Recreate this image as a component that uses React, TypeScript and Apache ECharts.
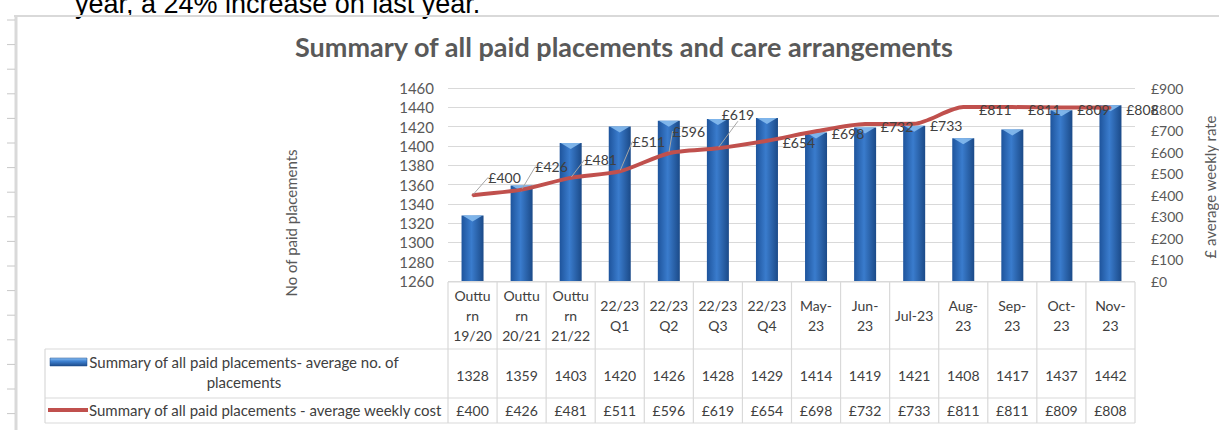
import React, { useEffect, useRef } from 'react';
import * as echarts from 'echarts';

// ---------- data ----------
const categories = [
  'Outturn 19/20', 'Outturn 20/21', 'Outturn 21/22', '22/23 Q1', '22/23 Q2', '22/23 Q3', '22/23 Q4',
  'May-23', 'Jun-23', 'Jul-23', 'Aug-23', 'Sep-23', 'Oct-23', 'Nov-23',
];
const categoryLabels = [
  'Outtu\nrn\n19/20', 'Outtu\nrn\n20/21', 'Outtu\nrn\n21/22', '22/23\nQ1', '22/23\nQ2', '22/23\nQ3', '22/23\nQ4',
  'May-\n23', 'Jun-\n23', 'Jul-23', 'Aug-\n23', 'Sep-\n23', 'Oct-\n23', 'Nov-\n23',
];
const placements = [1328, 1359, 1403, 1420, 1426, 1428, 1429, 1414, 1419, 1421, 1408, 1417, 1437, 1442];
const weeklyCost = [400, 426, 481, 511, 596, 619, 654, 698, 732, 733, 811, 811, 809, 808];

const leftAxis = { min: 1260, max: 1460, interval: 20 };
const rightAxis = { min: 0, max: 900, interval: 100 };

const title = 'Summary of all paid placements and care arrangements';
const seriesBarName = 'Summary of all paid placements- average no. of placements';
const seriesLineName = 'Summary of all paid placements - average weekly cost';
const leftAxisName = 'No of paid placements';
const rightAxisName = '£ average weekly rate';
const pageText = 'year, a 24% increase on last year.';

// ---------- layout / style ----------
const W = 1219;
const H = 430;
const PLOT_L = 448;
const PLOT_R = 1135;
const PLOT_T = 88;
const PLOT_B = 281;
const ROW_HDR_TOP = 282;
const ROW1_TOP = 349;
const ROW2_TOP = 398;
const TABLE_BOTTOM = 423;
const TABLE_LEFT = 45;
const GRID_COLOR = '#d9d9d9';
const TEXT = '#404040';
const AXIS_TEXT = '#595959';
const FONT = 'Lato, "Open Sans", sans-serif';
const labelOffsets: number[][] = [[32, -18], [30, -23], [30, -18], [29, -30], [20, -22], [20, -34]];

export default function App() {
  const ref = useRef<HTMLDivElement>(null);
  useEffect(() => {
    if (!ref.current) return;
    const chart = echarts.init(ref.current, null, { renderer: 'svg', width: W, height: H });
    const n = categories.length;
    const colW = (PLOT_R - PLOT_L) / n;
    const colX = (i: number) => PLOT_L + colW * (i + 0.5);

    const graphics: any[] = [];
    // page chrome: text above and chart frame
    graphics.push({
      type: 'text', x: 75, y: 4,
      style: { text: pageText, font: '27px "Liberation Sans", Arial, sans-serif', fill: '#000', align: 'left', verticalAlign: 'middle' },
    });
    graphics.push({ type: 'rect', shape: { x: 0, y: 15, width: W, height: H }, style: { fill: '#fff' }, z: -1 });
    graphics.push({ type: 'line', shape: { x1: 14, y1: 16, x2: W, y2: 16 }, style: { stroke: GRID_COLOR, lineWidth: 2 } });
    graphics.push({ type: 'line', shape: { x1: 16, y1: 15, x2: 16, y2: H }, style: { stroke: GRID_COLOR, lineWidth: 3 } });
    for (let k = 0; k < 17; k++) {
      const y = 20 + k * 24.6;
      graphics.push({ type: 'line', shape: { x1: 7, y1: y, x2: 15, y2: y }, style: { stroke: '#c8c8c8', lineWidth: 1 } });
    }
    // axis titles
    graphics.push({
      type: 'text', x: 291, y: 223, rotation: Math.PI / 2,
      style: { text: leftAxisName, font: `15px ${FONT}`, fill: AXIS_TEXT, align: 'center', verticalAlign: 'middle' },
    });
    graphics.push({
      type: 'text', x: 1210, y: 187, rotation: Math.PI / 2,
      style: { text: rightAxisName, font: `15px ${FONT}`, fill: AXIS_TEXT, align: 'center', verticalAlign: 'middle' },
    });
    // data table lines
    const hl = (y: number, x1: number) =>
      graphics.push({ type: 'line', shape: { x1, y1: y, x2: PLOT_R, y2: y }, style: { stroke: GRID_COLOR, lineWidth: 1.2 } });
    hl(ROW_HDR_TOP, PLOT_L);
    hl(ROW1_TOP, TABLE_LEFT);
    hl(ROW2_TOP, TABLE_LEFT);
    hl(TABLE_BOTTOM, TABLE_LEFT);
    graphics.push({ type: 'line', shape: { x1: TABLE_LEFT, y1: ROW1_TOP, x2: TABLE_LEFT, y2: TABLE_BOTTOM }, style: { stroke: GRID_COLOR, lineWidth: 1.2 } });
    for (let i = 0; i <= n; i++) {
      const x = PLOT_L + colW * i;
      graphics.push({ type: 'line', shape: { x1: x, y1: ROW_HDR_TOP, x2: x, y2: TABLE_BOTTOM }, style: { stroke: GRID_COLOR, lineWidth: 1.2 } });
    }
    // table values
    for (let i = 0; i < n; i++) {
      graphics.push({
        type: 'text', x: colX(i), y: 375,
        style: { text: String(placements[i]), font: `14px ${FONT}`, fill: TEXT, align: 'center', verticalAlign: 'middle' },
      });
      graphics.push({
        type: 'text', x: colX(i), y: 410,
        style: { text: '£' + weeklyCost[i], font: `14px ${FONT}`, fill: TEXT, align: 'center', verticalAlign: 'middle' },
      });
    }
    // legend keys + names
    graphics.push({
      type: 'rect', shape: { x: 50, y: 358, width: 37, height: 8 },
      style: {
        fill: new echarts.graphic.LinearGradient(0, 0, 0, 1, [
          { offset: 0, color: '#8dc0f2' }, { offset: 0.4, color: '#3f82d2' }, { offset: 1, color: '#1d4c8c' },
        ]),
        stroke: '#1f4e8c', lineWidth: 0.5,
      },
    });
    graphics.push({ type: 'line', shape: { x1: 48, y1: 410, x2: 88, y2: 410 }, style: { stroke: '#c0504d', lineWidth: 4 } });
    const barWords = seriesBarName.split(' ');
    const line1 = barWords.slice(0, -1).join(' ');
    const line2 = barWords[barWords.length - 1];
    graphics.push({
      type: 'text', x: 244, y: 362,
      style: { text: line1, font: `15px ${FONT}`, fill: TEXT, align: 'center', verticalAlign: 'middle' },
    });
    graphics.push({
      type: 'text', x: 244, y: 382,
      style: { text: line2, font: `15px ${FONT}`, fill: TEXT, align: 'center', verticalAlign: 'middle' },
    });
    graphics.push({
      type: 'text', x: 89, y: 410,
      style: { text: seriesLineName, font: `15px ${FONT}`, fill: TEXT, align: 'left', verticalAlign: 'middle' },
    });

    chart.setOption({
      animation: false,
      backgroundColor: '#ffffff',
      title: {
        text: title, left: 619, top: 28, textAlign: 'center',
        textStyle: { fontFamily: FONT, fontSize: 27, fontWeight: 'bold', color: AXIS_TEXT },
      },
      grid: { left: PLOT_L, right: W - PLOT_R, top: PLOT_T, bottom: H - PLOT_B, containLabel: false },
      xAxis: {
        type: 'category',
        data: categories,
        axisLine: { show: false },
        axisTick: { show: false },
        axisLabel: {
          formatter: (_v: string, i: number) => categoryLabels[i],
          margin: 34, verticalAlign: 'middle', lineHeight: 20, interval: 0,
          fontFamily: FONT, fontSize: 14, color: TEXT,
        },
      },
      yAxis: [
        {
          type: 'value', min: leftAxis.min, max: leftAxis.max, interval: leftAxis.interval,
          axisLine: { show: false }, axisTick: { show: false },
          axisLabel: { margin: 14, fontFamily: FONT, fontSize: 15, color: AXIS_TEXT, formatter: (v: number) => String(v) },
          splitLine: { lineStyle: { color: GRID_COLOR, width: 1 } },
        },
        {
          type: 'value', min: rightAxis.min, max: rightAxis.max, interval: rightAxis.interval,
          axisLine: { show: false }, axisTick: { show: false },
          axisLabel: { margin: 16, fontFamily: FONT, fontSize: 14, color: AXIS_TEXT, formatter: (v: number) => '£' + v },
          splitLine: { show: false },
        },
      ],
      graphic: graphics,
      series: [
        {
          name: seriesBarName,
          type: 'bar',
          yAxisIndex: 0,
          data: placements,
          barWidth: 22,
          itemStyle: {
            color: new echarts.graphic.LinearGradient(0, 0, 1, 0, [
              { offset: 0, color: '#1e549c' }, { offset: 0.45, color: '#3a7ccd' }, { offset: 1, color: '#1b4a88' },
            ]),
          },
          z: 2,
        },
        {
          name: seriesBarName + ' cap',
          type: 'scatter',
          yAxisIndex: 0,
          data: placements,
          symbol: 'path://M0,0 L20,0 L10,6 Z',
          symbolSize: [20, 6],
          symbolOffset: [0, 3],
          itemStyle: { color: '#86bbee', opacity: 0.9 },
          silent: true,
          z: 3,
        },
        {
          name: seriesLineName,
          type: 'line',
          yAxisIndex: 1,
          data: weeklyCost.map((v, i) => ({ value: v, labelLine: { show: i < labelOffsets.length } })),
          smooth: 0.25,
          symbol: 'circle',
          symbolSize: 2,
          showSymbol: true,
          itemStyle: { color: '#c0504d' },
          lineStyle: { color: '#c0504d', width: 4 },
          label: {
            show: true,
            position: 'right',
            formatter: (p: any) => '£' + p.value,
            fontFamily: FONT, fontSize: 14, color: TEXT,
          },
          labelLine: { show: true, lineStyle: { color: '#a6a6a6', width: 1 } },
          labelLayout: (p: any) => {
            const i = p.dataIndex;
            const cx = p.rect.x + p.rect.width / 2;
            const cy = p.rect.y + p.rect.height / 2;
            const o = i < labelOffsets.length ? labelOffsets[i] : [32, 2];
            return { x: cx + o[0], y: cy + o[1], align: 'center', verticalAlign: 'middle', hideOverlap: false, moveOverlap: false };
          },
          z: 5,
        },
      ],
    });
    return () => chart.dispose();
  }, []);
  return <div ref={ref} style={{ position: 'fixed', left: 0, top: 0, width: W, height: H, background: '#fff' }} />;
}
